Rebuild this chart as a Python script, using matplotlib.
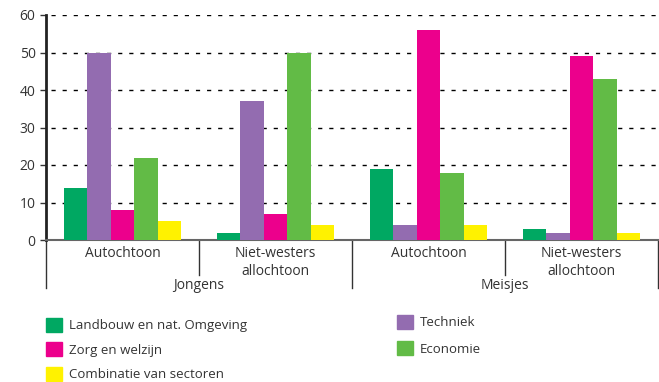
import numpy as np
import matplotlib
matplotlib.use("Agg")
import matplotlib.pyplot as plt
from matplotlib.patches import Patch
from matplotlib.transforms import blended_transform_factory

groups = ["Jongens", "Meisjes"]
subgroups = ["Autochtoon", "Niet-westers\nallochtoon", "Autochtoon", "Niet-westers\nallochtoon"]
series = ["Landbouw en nat. Omgeving", "Techniek", "Zorg en welzijn", "Economie",
          "Combinatie van sectoren"]
colors = ["#00a862", "#936cb0", "#ec008c", "#62bb46", "#fff200"]

landbouw = [14, 2, 19, 3]
techniek = [50, 37, 4, 2]
zorg = [8, 7, 56, 49]
economie = [22, 50, 18, 43]
combinatie = [5, 4, 4, 2]
values = [landbouw, techniek, zorg, economie, combinatie]

txt = "#333333"
plt.rcParams["font.family"] = ["Open Sans", "DejaVu Sans"]

fig = plt.figure(figsize=(6.59, 3.82), dpi=100)
ax = fig.add_axes([46 / 659, 1 - 240 / 382, 612 / 659, 225 / 382])

x = np.arange(len(subgroups)) + 0.5
w = 0.154
for i, (name, vals) in enumerate(zip(series, values)):
    ax.bar(x + (i - 2) * w, vals, width=w, color=colors[i], label=name, zorder=3)

ax.set_xlim(0, 4)
ax.set_ylim(0, 60)
ax.set_yticks(range(0, 61, 10))
ax.tick_params(axis="y", labelsize=10, colors=txt, length=4, width=1)
ax.set_xticks([])
for v in range(10, 61, 10):
    ax.plot([0.03, 4], [v, v], color="black", lw=1, ls=(0, (3, 5)), zorder=1)

for s in ["top", "right"]:
    ax.spines[s].set_visible(False)
ax.spines["left"].set_color("#222222")
ax.spines["left"].set_linewidth(2)
ax.spines["bottom"].set_color("#666666")
ax.spines["bottom"].set_linewidth(1.5)

# category axis: sub labels, dividers, group labels
tr = blended_transform_factory(ax.transData, fig.transFigure)
for pos in [0, 1, 2, 3, 4]:
    long = pos in (0, 2, 4)
    y_end = 1 - (288 if long else 275) / 382
    ax.plot([pos, pos], [1 - 240 / 382, y_end], color="#333333", lw=1,
            transform=tr, clip_on=False)
for xi, lab in zip(x, subgroups):
    ax.text(xi, 1 - 246 / 382, lab, transform=tr, ha="center", va="top",
            fontsize=10, color=txt, linespacing=1.25)
for gi, g in enumerate(groups):
    ax.text(1 + 2 * gi, 1 - 278 / 382, g, transform=tr, ha="center", va="top",
            fontsize=10, color=txt)

handles = [Patch(color=c) for c in colors]
legend_kw = dict(loc="upper left", frameon=False, fontsize=9.5, labelcolor=txt,
                 handlelength=1.2, handleheight=1.25, handletextpad=0.55,
                 borderaxespad=0, borderpad=0)
fig.legend([handles[0], handles[2], handles[4]], [series[0], series[2], series[4]],
           bbox_to_anchor=(46 / 659, 1 - 318 / 382), labelspacing=0.75, **legend_kw)
fig.legend([handles[1], handles[3]], [series[1], series[3]],
           bbox_to_anchor=(397 / 659, 1 - 315 / 382), labelspacing=0.9, **legend_kw)

fig.savefig("out.png", dpi=100)
